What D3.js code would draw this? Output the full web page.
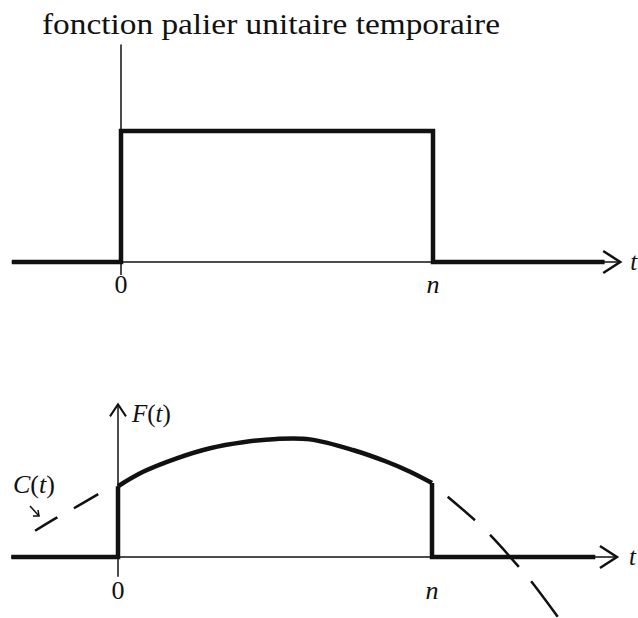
<!DOCTYPE html>
<html>
<head>
<meta charset="utf-8">
<script src="https://cdn.jsdelivr.net/npm/d3@7"></script>
<style>
  body { margin: 0; background: #fff; }
  text { font-family: "Liberation Serif", "DejaVu Serif", serif; fill: #111; }
</style>
</head>
<body>
<script>
// data (t in units of n, values in units of the step height)

const title = "fonction palier unitaire temporaire";

// unit step on [0, n]
const stepT = [-0.35, 0, 0, 1, 1, 1.55];
const stepV = [0, 0, 1, 1, 0, 0];

// F(t) = C(t) on [0, n]
const fT = [0, 0.08, 0.187, 0.293, 0.398, 0.505, 0.611, 0.748, 0.856, 0.93, 1];
const fV = [0.54, 0.65, 0.753, 0.83, 0.876, 0.901, 0.898, 0.817, 0.727, 0.651, 0.565];

// C(t) outside [0, n] (dashed)
const cLeftT = [-0.264, -0.195, -0.142, -0.063];
const cLeftV = [0.2, 0.3, 0.37, 0.48];
const cRightT = [1.05, 1.137, 1.185, 1.277, 1.317, 1.401];
const cRightV = [0.46, 0.28, 0.168, -0.076, -0.189, -0.458];

const tickLabels = ["0", "n"];
const tickT = [0, 1];

function drawChart() {

    // define dimensions

    const dms = { width: 638, height: 618 };
    const thick = 4.5, thin = 1.5;

    const svg = d3.select("body")
                    .append("svg")
                        .attr("width", dms.width)
                        .attr("height", dms.height);

    // title

    svg.append("text")
        .attr("x", 42)
        .attr("y", 34)
        .attr("textLength", 458)
        .attr("lengthAdjust", "spacingAndGlyphs")
        .style("font-size", "29px")
        .text(title);

    // panels

    const panels = [
        { x: d3.scaleLinear().domain([0, 1]).range([121, 433]),
          y: d3.scaleLinear().domain([0, 1]).range([262, 131]),
          axisT: [-0.35, 1.6], axisV: [-0.1, 1.66], yArrow: false,
          labelDy: 31, tDx: 10 },
        { x: d3.scaleLinear().domain([0, 1]).range([118, 432]),
          y: d3.scaleLinear().domain([0, 1]).range([557, 426]),
          axisT: [-0.34, 1.589], axisV: [-0.15, 1.165], yArrow: true,
          labelDy: 42, tDx: 12 }
    ];

    const line = (xs, ys) => d3.line()
                    .x(i => xs(i[0]))
                    .y(i => ys(i[1]));

    const smooth = (xs, ys) => d3.line()
                    .x(i => xs(i[0]))
                    .y(i => ys(i[1]))
                    .curve(d3.curveCatmullRom.alpha(0.5));

    panels.forEach((p, k) => {
        const g = svg.append("g");
        const xEnd = p.x(p.axisT[1]);
        const y0 = p.y(0);

        // thin axes
        g.append("line")
            .attr("x1", p.x(p.axisT[0])).attr("x2", xEnd)
            .attr("y1", y0).attr("y2", y0)
            .attr("stroke", "#111").attr("stroke-width", thin);

        g.append("line")
            .attr("x1", p.x(0)).attr("x2", p.x(0))
            .attr("y1", p.y(p.axisV[0])).attr("y2", p.y(p.axisV[1]))
            .attr("stroke", "#111").attr("stroke-width", thin);

        // arrow heads
        g.append("path")
            .attr("d", `M${xEnd - 17},${y0 - 11} L${xEnd},${y0} L${xEnd - 17},${y0 + 11}`)
            .attr("fill", "none").attr("stroke", "#111").attr("stroke-width", 2.5);

        if (p.yArrow) {
            const yt = p.y(p.axisV[1]);
            g.append("path")
                .attr("d", `M${p.x(0) - 8},${yt + 12} L${p.x(0)},${yt} L${p.x(0) + 8},${yt + 12}`)
                .attr("fill", "none").attr("stroke", "#111").attr("stroke-width", 2);
        }

        // thick function
        if (k === 0) {
            const pts = stepT.map((t, i) => [t, stepV[i]]);
            g.append("path")
                .attr("d", line(p.x, p.y)(pts))
                .attr("fill", "none").attr("stroke", "#111")
                .attr("stroke-width", thick).attr("stroke-linejoin", "miter");
        } else {
            const curve = fT.map((t, i) => [t, fV[i]]);
            g.append("path")
                .attr("d", smooth(p.x, p.y)(curve))
                .attr("fill", "none").attr("stroke", "#111")
                .attr("stroke-width", thick);

            // jumps and zero parts
            g.append("path")
                .attr("d", line(p.x, p.y)([[p.axisT[0], 0], [0, 0], [0, fV[0]]]))
                .attr("fill", "none").attr("stroke", "#111").attr("stroke-width", thick);
            g.append("path")
                .attr("d", line(p.x, p.y)([[1, fV[fV.length - 1]], [1, 0], [1.52, 0]]))
                .attr("fill", "none").attr("stroke", "#111").attr("stroke-width", thick);

            // dashed C(t)
            const dashed = (ts, vs, dash) => g.append("path")
                .attr("d", smooth(p.x, p.y)(ts.map((t, i) => [t, vs[i]])))
                .attr("fill", "none").attr("stroke", "#111")
                .attr("stroke-width", 2.5)
                .attr("stroke-dasharray", dash);

            dashed(cLeftT, cLeftV, "26 19 30");
            dashed(cRightT, cRightV, "36 21 43 19 44");

            // labels F(t), C(t)
            const fl = g.append("text")
                .attr("x", p.x(0) + 14).attr("y", 422)
                .style("font-size", "25px");
            fl.append("tspan").style("font-style", "italic").text("F");
            fl.append("tspan").text("(");
            fl.append("tspan").style("font-style", "italic").text("t");
            fl.append("tspan").text(")");

            const cl = g.append("text")
                .attr("x", 13).attr("y", 493)
                .style("font-size", "26px");
            cl.append("tspan").style("font-style", "italic").text("C");
            cl.append("tspan").text("(");
            cl.append("tspan").style("font-style", "italic").text("t");
            cl.append("tspan").text(")");

            // small pointer arrow to the dashed curve
            g.append("path")
                .attr("d", "M30,506 L39,516")
                .attr("fill", "none").attr("stroke", "#111").attr("stroke-width", 1.5);
            g.append("path")
                .attr("d", "M33,516 L39,516 L38,510")
                .attr("fill", "none").attr("stroke", "#111").attr("stroke-width", 1.5);
        }

        // tick labels
        g.selectAll(".tick-label")
            .data(tickT)
            .join("text")
                .attr("class", "tick-label")
                .attr("x", d => p.x(d))
                .attr("y", y0 + p.labelDy)
                .attr("text-anchor", "middle")
                .style("font-size", "26px")
                .style("font-style", (d, i) => i === 1 ? "italic" : "normal")
                .text((d, i) => tickLabels[i]);

        g.append("text")
            .attr("x", xEnd + p.tDx)
            .attr("y", y0 + 8)
            .style("font-size", "25px")
            .style("font-style", "italic")
            .text("t");
    });
}

drawChart();
</script>
</body>
</html>
